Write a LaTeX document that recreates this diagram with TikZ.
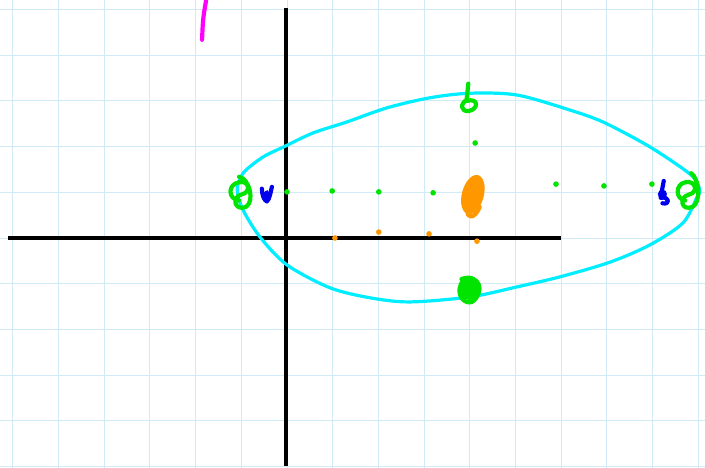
\documentclass[tikz,border=0pt]{standalone}
\usetikzlibrary{calc}
\definecolor{gridblue}{RGB}{208,234,247}
\definecolor{penaqua}{RGB}{0,238,255}
\definecolor{pengreen}{RGB}{0,228,0}
\definecolor{penblue}{RGB}{0,0,235}
\definecolor{penorange}{RGB}{255,152,0}
\definecolor{penpink}{RGB}{255,0,255}
\begin{document}
\begin{tikzpicture}
\tikzstyle{paper}=[gridblue,line width=0.6pt];
\tikzstyle{axis}=[black,line width=2.6pt];
\tikzstyle{ink}=[line width=2pt,line cap=round,line join=round];
\tikzstyle{thick ink}=[line width=2.6pt,line cap=round,line join=round];
\tikzstyle{dot}=[fill,circle,inner sep=0pt,minimum size=3.5pt];
\useasboundingbox (-6.284,-5.036) rectangle (9.153,5.211);
\fill[white] (-6.284,-5.036) rectangle (9.153,5.211);
% grid paper
\foreach \x in {-6,...,9} \draw[paper] (\x,-5.036) -- (\x,5.211);
\foreach \y in {-5,...,5} \draw[paper] (-6.284,\y) -- (9.153,\y);
% axes
\draw[axis] (-6.11,0) -- (6.0,0);
\draw[axis] (-0.02,5.04) -- (-0.02,-5.0);
% pink stroke
\draw[thick ink,penpink] (-1.86,4.34) .. controls (-1.84,4.8) .. (-1.77,5.21);
% orbit
\draw[ink,penaqua] plot[smooth cycle,tension=0.5] coordinates {
 (9.04,1.05) (8.89,1.34) (8.39,1.71) (7.80,2.08) (6.92,2.54) (6.20,2.80)
 (5.04,3.13) (4.01,3.17) (3.13,3.07) (2.19,2.85) (1.31,2.54) (0.57,2.30)
 (-0.04,2.01) (-0.53,1.77) (-0.96,1.42) (-1.09,1.05) (-0.96,0.61)
 (-0.59,0.02) (0,-0.59) (0.94,-1.09) (1.82,-1.31) (2.69,-1.40) (4.01,-1.29)
 (5.04,-1.07) (5.98,-0.85) (7.07,-0.53) (7.95,-0.15) (8.67,0.33) (8.98,0.90)};
% small dots
\foreach \p in {(0,1.01),(0.99,1.03),(2.01,1.01),(3.20,0.99),(5.89,1.18),(6.94,1.14),(7.99,1.18),(4.12,2.08)}
  \node[dot,pengreen] at \p {};
\foreach \p in {(1.05,0),(2.01,0.13),(3.11,0.09),(4.16,-0.07)}
  \node[dot,penorange] at \p {};
% sun
\fill[penorange,rotate around={-15:(4.07,0.95)}] (4.07,0.95) ellipse (0.24 and 0.44);
\draw[thick ink,penorange] (3.96,0.62) .. controls (3.92,0.40) and (4.12,0.42) .. (4.22,0.68);
% vertices and foci
\draw[thick ink,pengreen] (-1.05,0.82) .. controls (-1.3,0.85) and (-1.3,1.18) .. (-1.05,1.22)
  .. controls (-0.82,1.27) and (-0.78,1.0) .. (-1.0,0.95) .. controls (-1.22,0.9) and (-1.15,0.58) .. (-0.9,0.68)
  .. controls (-0.7,0.8) and (-0.82,1.3) .. (-1.05,1.34);
\draw[thick ink,pengreen] (8.72,0.82) .. controls (8.5,0.85) and (8.5,1.18) .. (8.72,1.22)
  .. controls (8.95,1.27) and (9.02,1.0) .. (8.8,0.95) .. controls (8.58,0.9) and (8.62,0.58) .. (8.88,0.68)
  .. controls (9.08,0.8) and (9.02,1.3) .. (8.85,1.42);
\draw[thick ink,pengreen] (3.97,3.38) -- (3.93,3.0) .. controls (4.2,3.08) and (4.2,2.82) .. (3.98,2.78)
  .. controls (3.8,2.76) and (3.78,2.95) .. (3.95,3.03);
\fill[pengreen] (4.0,-1.1) circle (0.26);
\draw[thick ink,pengreen] (3.82,-0.9) .. controls (4.2,-0.75) and (4.35,-1.2) .. (4.05,-1.4)
  .. controls (3.9,-1.45) and (3.75,-1.3) .. (3.78,-1.1);
\draw[thick ink,penblue] (-0.55,1.08) .. controls (-0.55,0.95) and (-0.5,0.82) .. (-0.44,0.8)
  .. controls (-0.38,0.85) and (-0.36,1.0) .. (-0.33,1.12);
\fill[penblue,rotate around={-15:(-0.46,0.92)}] (-0.46,0.92) ellipse (0.07 and 0.13);
\draw[thick ink,penblue] (8.25,1.25) -- (8.18,0.88) .. controls (8.38,0.92) and (8.4,0.72) .. (8.22,0.76);
\fill[penblue] (8.22,0.96) circle (0.1);
\end{tikzpicture}
\end{document}
